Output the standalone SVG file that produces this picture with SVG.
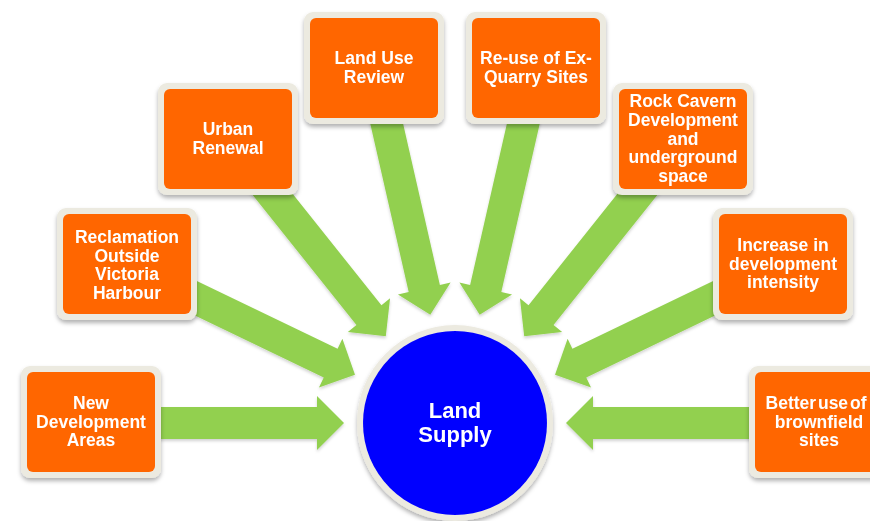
<svg xmlns="http://www.w3.org/2000/svg" xmlns:xlink="http://www.w3.org/1999/xlink" width="870" height="521" viewBox="0 0 870 521">
<style>
.frame{fill:#ECEAE0;}
.box{fill:#FF6600;}
.t{font-family:"Liberation Sans",Arial,sans-serif;font-weight:bold;font-size:17.5px;fill:#FFFFFF;text-anchor:middle;}
.tc{font-family:"Liberation Sans",Arial,sans-serif;font-weight:bold;font-size:22px;fill:#FFFFFF;text-anchor:middle;}
.arr{fill:#92D050;}
</style>
<defs>
<filter id="sh" x="-20%" y="-20%" width="140%" height="150%">
<feDropShadow dx="0" dy="3" stdDeviation="2" flood-color="#000" flood-opacity="0.3"/>
</filter>
<filter id="ash" x="-20%" y="-20%" width="140%" height="150%">
<feDropShadow dx="0" dy="2" stdDeviation="1.5" flood-color="#000" flood-opacity="0.18"/>
</filter>
<path id="arrow" class="arr" d="M344,423 L317,396 L317,407 L91,407 L91,439 L317,439 L317,450 Z"/>
</defs>
<rect width="870" height="521" fill="#FFFFFF"/>
<g id="connectors" filter="url(#ash)">
<use xlink:href="#arrow" href="#arrow"/>
<use xlink:href="#arrow" href="#arrow" transform="rotate(25.714 455 423)"/>
<use xlink:href="#arrow" href="#arrow" transform="rotate(51.429 455 423)"/>
<use xlink:href="#arrow" href="#arrow" transform="rotate(77.143 455 423)"/>
<use xlink:href="#arrow" href="#arrow" transform="rotate(102.857 455 423)"/>
<use xlink:href="#arrow" href="#arrow" transform="rotate(128.571 455 423)"/>
<use xlink:href="#arrow" href="#arrow" transform="rotate(154.286 455 423)"/>
<use xlink:href="#arrow" href="#arrow" transform="rotate(180 455 423)"/>
</g>
<g id="center" filter="url(#sh)">
<circle cx="455" cy="423" r="98" class="frame"/>
<circle cx="455" cy="423" r="92" fill="#0000FF"/>
<text class="tc" x="455" y="418">Land</text>
<text class="tc" x="455" y="442">Supply</text>
</g>
<g id="n1">
<rect x="21" y="366" width="140" height="112" rx="9" class="frame" filter="url(#sh)"/>
<rect x="27" y="372" width="128" height="100" rx="6" class="box"/>
<text class="t" x="91" y="409">New</text>
<text class="t" x="91" y="427.5">Development</text>
<text class="t" x="91" y="446">Areas</text>
</g>
<g id="n2">
<rect x="57" y="208" width="140" height="112" rx="9" class="frame" filter="url(#sh)"/>
<rect x="63" y="214" width="128" height="100" rx="6" class="box"/>
<text class="t" x="127" y="243">Reclamation</text>
<text class="t" x="127" y="261.5">Outside</text>
<text class="t" x="127" y="280">Victoria</text>
<text class="t" x="127" y="298.5">Harbour</text>
</g>
<g id="n3">
<rect x="158" y="83" width="140" height="112" rx="9" class="frame" filter="url(#sh)"/>
<rect x="164" y="89" width="128" height="100" rx="6" class="box"/>
<text class="t" x="228" y="135">Urban</text>
<text class="t" x="228" y="154">Renewal</text>
</g>
<g id="n4">
<rect x="304" y="12" width="140" height="112" rx="9" class="frame" filter="url(#sh)"/>
<rect x="310" y="18" width="128" height="100" rx="6" class="box"/>
<text class="t" x="374" y="64">Land Use</text>
<text class="t" x="374" y="83">Review</text>
</g>
<g id="n5">
<rect x="466" y="12" width="140" height="112" rx="9" class="frame" filter="url(#sh)"/>
<rect x="472" y="18" width="128" height="100" rx="6" class="box"/>
<text class="t" x="536" y="64">Re-use of Ex-</text>
<text class="t" x="536" y="83">Quarry Sites</text>
</g>
<g id="n6">
<rect x="613" y="83" width="140" height="112" rx="9" class="frame" filter="url(#sh)"/>
<rect x="619" y="89" width="128" height="100" rx="6" class="box"/>
<text class="t" x="683" y="107">Rock Cavern</text>
<text class="t" x="683" y="126">Development</text>
<text class="t" x="683" y="144.5">and</text>
<text class="t" x="683" y="163">underground</text>
<text class="t" x="683" y="182">space</text>
</g>
<g id="n7">
<rect x="713" y="208" width="140" height="112" rx="9" class="frame" filter="url(#sh)"/>
<rect x="719" y="214" width="128" height="100" rx="6" class="box"/>
<text class="t" x="783" y="251">Increase in</text>
<text class="t" x="783" y="269.5">development</text>
<text class="t" x="783" y="288">intensity</text>
</g>
<g id="n8">
<rect x="749" y="366" width="140" height="112" rx="9" class="frame" filter="url(#sh)"/>
<rect x="755" y="372" width="128" height="100" rx="6" class="box"/>
<text class="t" x="816" y="409" word-spacing="-3">Better use of</text>
<text class="t" x="819" y="427.5">brownfield</text>
<text class="t" x="819" y="446">sites</text>
</g>
</svg>
